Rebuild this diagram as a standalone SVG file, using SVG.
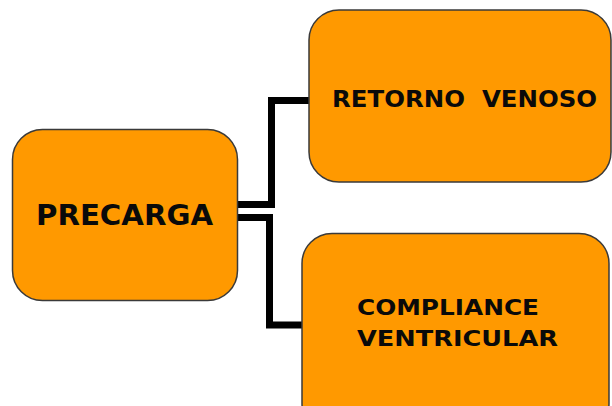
<svg xmlns="http://www.w3.org/2000/svg" width="612" height="406" viewBox="0 0 612 406">
<style>
.box{fill:#FF9900;stroke:#3a3a3a;stroke-width:1.5}
.lbl{font-family:"DejaVu Sans","Verdana",sans-serif;font-weight:bold;fill:#0a0a0a}
.conn{fill:none;stroke:#000;stroke-width:7;stroke-linejoin:miter;stroke-linecap:butt}
</style>
<rect width="612" height="406" fill="#fff"/>
<g id="connectors">
<polyline class="conn" points="234,204.5 271.5,204.5 271.5,100.5 309,100.5"/>
<polyline class="conn" points="234,217.5 269.5,217.5 269.5,325 303,325"/>
</g>
<g id="precarga">
<rect class="box" x="12.5" y="129.5" width="225" height="171" rx="30"/>
<text class="lbl" x="36" y="225" font-size="28" textLength="177" lengthAdjust="spacingAndGlyphs">PRECARGA</text>
</g>
<g id="retorno-venoso">
<rect class="box" x="309" y="10" width="302" height="172" rx="30"/>
<text class="lbl" x="332" y="106.5" font-size="23" textLength="265" lengthAdjust="spacingAndGlyphs" xml:space="preserve">RETORNO  VENOSO</text>
</g>
<g id="compliance-ventricular">
<rect class="box" x="302" y="233.5" width="307" height="200" rx="30"/>
<text class="lbl" x="357" y="314.5" font-size="21.5" textLength="182" lengthAdjust="spacingAndGlyphs">COMPLIANCE</text>
<text class="lbl" x="357" y="346" font-size="21.5" textLength="201" lengthAdjust="spacingAndGlyphs">VENTRICULAR</text>
</g>
</svg>
